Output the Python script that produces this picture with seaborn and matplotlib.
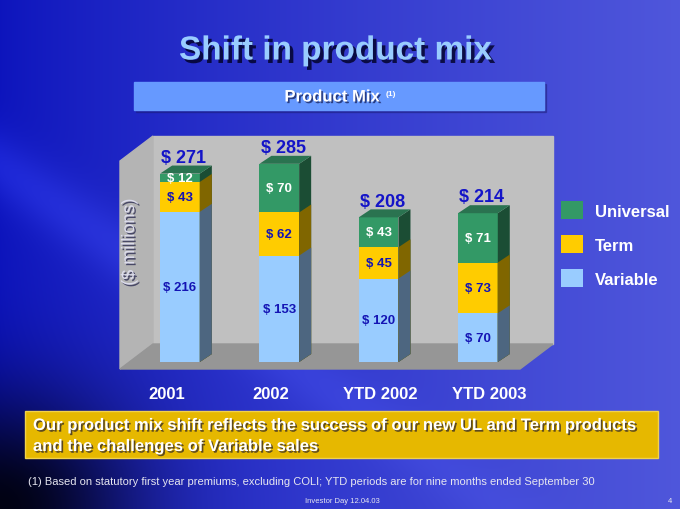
import numpy as np
import pandas as pd
import seaborn as sns
import matplotlib.pyplot as plt
from matplotlib.patches import Polygon, Rectangle, Patch
from matplotlib.transforms import ScaledTranslation
import matplotlib.patheffects as pe

# data
categories = ["2001", "2002", "YTD 2002", "YTD 2003"]
variable = [216, 153, 120, 70]
term = [43, 62, 45, 73]
universal = [12, 70, 43, 71]
totals = [271, 285, 208, 214]
series_names = ["Universal", "Term", "Variable"]

front = {"Universal": "#339966", "Term": "#ffcc00", "Variable": "#99ccff"}
side = {"Universal": "#1b4d34", "Term": "#806600", "Variable": "#4d6680"}
top_col = "#2a7350"

sns.set_theme(style="white")
plt.rcParams["font.family"] = ["Liberation Sans", "DejaVu Sans"]

W, H = 680, 510
fig = plt.figure(figsize=(6.8, 5.1), dpi=100)

# slide background, drawn in pixel coordinates
bg = fig.add_axes([0, 0, 1, 1], zorder=0)
xx, yy = np.meshgrid(np.linspace(0, 1, W), np.linspace(0, 1, H))
left_c = np.array([0.05, 0.08, 0.74])
right_c = np.array([0.31, 0.34, 0.86])
img = left_c + (right_c - left_c) * (xx ** 0.8)[..., None]
d2 = xx ** 2 + 0.8 * (1 - yy) ** 2
img = img * (1 - 0.9 * np.exp(-d2 / 0.04))[..., None]
beam = np.exp(-((yy - (0.33 + 0.9 * xx)) / 0.07) ** 2) * 0.10 * (1 - xx)
img = np.clip(img + beam[..., None] * np.array([0.6, 0.7, 1.0]), 0, 1)
bg.imshow(img, extent=(0, W, H, 0), aspect="auto", origin="upper")
bg.set_xlim(0, W)
bg.set_ylim(H, 0)
bg.axis("off")

shadow = [pe.withSimplePatchShadow(offset=(1.2, -1.2), shadow_rgbFace="#000033", alpha=0.6)]

bg.text(336, 52, "Shift in product mix", ha="center", va="center", fontsize=24,
        fontweight="bold", color="#99ccff",
        path_effects=[pe.withSimplePatchShadow(offset=(2.5, -2.5), shadow_rgbFace="#000022", alpha=0.8)])

bg.add_patch(Rectangle((136, 85), 410, 28, color="#1a1a70", alpha=0.4))
bg.add_patch(Rectangle((134, 83), 410, 28, color="#6699ff"))
bg.text(332, 98, "Product Mix", ha="center", va="center", fontsize=12,
        fontweight="bold", color="white", path_effects=shadow)
bg.text(386, 94, "(1)", ha="left", va="center", fontsize=6, fontweight="bold", color="white")

# 3-D chart box
bg.add_patch(Rectangle((153, 137), 400, 208, color="#c0c0c0"))
bg.add_patch(Polygon([(120, 162), (153, 137), (153, 345), (120, 370)], color="#b4b4b4"))
bg.add_patch(Polygon([(120, 370), (520, 370), (553, 345), (153, 345)], color="#969696"))

# conclusion box and footnotes
bg.add_patch(Rectangle((25, 412), 633, 47, facecolor="#e6b800", edgecolor="#f2d24a", lw=1))
bg.text(33, 437, "Our product mix shift reflects the success of our new UL and Term products\n"
        "and the challenges of Variable sales", ha="left", va="center", fontsize=12,
        fontweight="bold", color="white", linespacing=1.5, path_effects=shadow)
bg.text(28, 482, "(1) Based on statutory first year premiums, excluding COLI; YTD periods are "
        "for nine months ended September 30", ha="left", va="center", fontsize=8, color="#e6e6f0")
bg.text(342, 502, "Investor Day 12.04.03", ha="center", va="center", fontsize=5.5, color="#e6e6f0")
bg.text(670, 502, "4", ha="center", va="center", fontsize=5.5, color="#e6e6f0")

# stacked bars
df = pd.DataFrame({"period": categories, "Variable": variable, "Term": term,
                   "Universal": universal})
df["Term_top"] = df["Variable"] + df["Term"]
df["Universal_top"] = df["Term_top"] + df["Universal"]

ax = fig.add_axes([120 / W, 1 - 363 / H, 433 / W, 226 / H], zorder=1)
ax.set_facecolor("none")

bar_w = 0.40
groups = {}
for name, col in [("Universal", "Universal_top"), ("Term", "Term_top"), ("Variable", "Variable")]:
    n0 = len(ax.patches)
    sns.barplot(data=df, x="period", y=col, color=front[name], saturation=1,
                width=bar_w, linewidth=0, ax=ax, order=categories)
    groups[name] = ax.patches[n0:]

ax.set_xlim(-0.604, 3.756)
ax.set_ylim(0, 325)
dx = 12 / (433 / (3.756 + 0.604))
dy = 8 / (226 / 325)

for name in series_names:
    for bar in groups[name]:
        x0, y0 = bar.get_x(), bar.get_y()
        x1, y1 = x0 + bar.get_width(), y0 + bar.get_height()
        ax.add_patch(Polygon([(x1, y0), (x1 + dx, y0 + dy), (x1 + dx, y1 + dy), (x1, y1)],
                             color=side[name], lw=0, zorder=1.5))
        if name == "Universal":
            ax.add_patch(Polygon([(x0, y1), (x1, y1), (x1 + dx, y1 + dy), (x0 + dx, y1 + dy)],
                                 color=top_col, lw=0, zorder=1.5))

for i in range(len(categories)):
    base = 0
    for name, vals in [("Variable", variable), ("Term", term), ("Universal", universal)]:
        c = "white" if name == "Universal" else "#1414b4"
        ax.text(i, base + vals[i] / 2, f"$ {vals[i]}", ha="center", va="center",
                fontsize=9.5, fontweight="bold", color=c, zorder=3)
        base += vals[i]
    ax.text(i + dx / 3, totals[i] + 17, f"$ {totals[i]}", ha="center", va="baseline",
            fontsize=13, fontweight="bold", color="#1414c8", zorder=3)

sns.despine(ax=ax, left=True, bottom=True)
ax.set_yticks([])
ax.set_xlabel("")
ax.set_ylabel("($ millions)", fontsize=13, color="#dcdcec", path_effects=shadow)
ax.yaxis.set_label_coords(18 / 433, (363 - 243) / 226)
ax.tick_params(axis="x", length=0, pad=17, labelsize=12, labelcolor="white")
# the category axis of the 3-D slide sits slightly wider than the bars
for lbl, shift in zip(ax.get_xticklabels(), [-13, -9, 2, 11]):
    lbl.set_fontweight("bold")
    lbl.set_transform(lbl.get_transform() + ScaledTranslation(shift / 100, 0, fig.dpi_scale_trans))

handles = [Patch(facecolor=front[n], edgecolor="none") for n in series_names]
ax.legend(handles, series_names, loc="upper left", bbox_to_anchor=(561 / W, 1 - 202 / H),
          bbox_transform=fig.transFigure, frameon=False, handlelength=1.3,
          handleheight=1.3, handletextpad=0.75, labelspacing=0.95, borderpad=0,
          borderaxespad=0, prop={"weight": "bold", "size": 12}, labelcolor="white")

fig.savefig("out.png", dpi=100)
